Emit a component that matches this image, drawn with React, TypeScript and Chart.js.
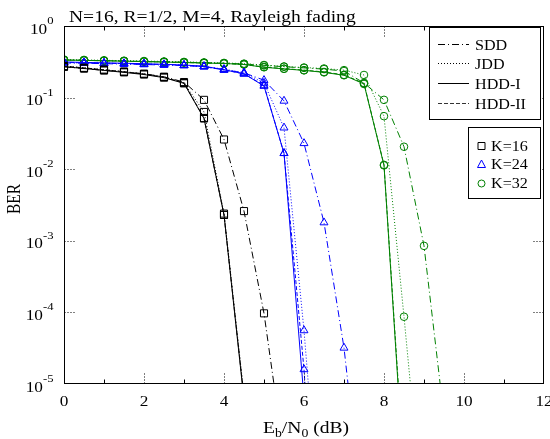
import React, { useEffect, useRef } from "react";
import { Chart, registerables } from "chart.js";

Chart.register(...registerables);

const SERIF = '"Liberation Serif", "Times New Roman", Times, serif';
const SX = 1.15;

// Eb/N0 grid (dB)
const ebn0 = [0, 0.5, 1, 1.5, 2, 2.5, 3, 3.5, 4, 4.5, 5, 5.5, 6, 6.5, 7, 7.5, 8, 8.5, 9, 9.5];

// K = 16
const k16SDD = [0.27, 0.255, 0.24, 0.228, 0.215, 0.195, 0.165, 0.093, 0.026, 0.0026, 0.000097, 0.000001];
const k16JDD = [0.275, 0.26, 0.245, 0.23, 0.215, 0.195, 0.16, 0.063, 0.0024, 0.000007];
const k16HDD1 = [0.27, 0.255, 0.24, 0.225, 0.21, 0.19, 0.158, 0.051, 0.0023, 0.000006];
const k16HDD2 = [0.275, 0.26, 0.245, 0.23, 0.213, 0.193, 0.16, 0.052, 0.0023, 0.0000065];

// K = 24
const k24SDD = [0.305, 0.302, 0.298, 0.294, 0.29, 0.285, 0.28, 0.27, 0.245, 0.222, 0.175, 0.09, 0.023, 0.0018, 0.000032, 0.0000001];
const k24JDD = [0.31, 0.306, 0.302, 0.298, 0.294, 0.289, 0.283, 0.272, 0.25, 0.222, 0.16, 0.038, 0.000056, 0.00000002];
const k24HDD1 = [0.315, 0.31, 0.306, 0.302, 0.297, 0.292, 0.285, 0.274, 0.245, 0.215, 0.145, 0.0167, 0.0000063];
const k24HDD2 = [0.31, 0.306, 0.302, 0.298, 0.294, 0.289, 0.283, 0.272, 0.243, 0.215, 0.148, 0.0167, 0.000016, 0.000000001];

// K = 32
const k32SDD = [0.335, 0.332, 0.328, 0.324, 0.32, 0.316, 0.312, 0.307, 0.302, 0.295, 0.282, 0.27, 0.26, 0.25, 0.235, 0.16, 0.093, 0.0206, 0.00085, 0.0000035];
const k32JDD = [0.34, 0.336, 0.332, 0.328, 0.324, 0.32, 0.315, 0.31, 0.305, 0.298, 0.285, 0.272, 0.263, 0.255, 0.242, 0.207, 0.055, 0.000087, 0.0000001];
const k32HDD1 = [0.335, 0.331, 0.327, 0.323, 0.318, 0.314, 0.309, 0.304, 0.3, 0.29, 0.265, 0.252, 0.24, 0.225, 0.205, 0.155, 0.0113, 0.0000005];
const k32HDD2 = [0.335, 0.331, 0.327, 0.323, 0.318, 0.314, 0.309, 0.304, 0.3, 0.29, 0.268, 0.254, 0.242, 0.228, 0.208, 0.158, 0.0115, 0.0000006];

const xTicks = [0, 2, 4, 6, 8, 10, 12];
const xMinorTicks = [1, 3, 5, 7, 9, 11];
const xGridTicks = [2, 4, 6, 8, 10];
const yTickExps = [0, -1, -2, -3, -4, -5];
const yGridExps = [-1, -2, -3, -4];

const titleText = "N=16, R=1/2, M=4, Rayleigh fading";
const decoderLabels = ["SDD", "JDD", "HDD-I", "HDD-II"];
const kLabels = ["K=16", "K=24", "K=32"];

const decoderDash = [[7, 3, 1, 3], [1, 2], [], [4, 2]];
const kColors = ["#000000", "#0000ff", "#008000"];
const kPointStyles = ["rect", "triangle", "circle"];
const kPointRadius = [5, 4.6, 3.8];
const kSeries = [
  [k16SDD, k16JDD, k16HDD1, k16HDD2],
  [k24SDD, k24JDD, k24HDD1, k24HDD2],
  [k32SDD, k32JDD, k32HDD1, k32HDD2],
];

type Run = { t: string; size: number; dy: number };

function drawRuns(ctx: CanvasRenderingContext2D, runs: Run[], x: number, y: number, align: "left" | "center" | "right") {
  ctx.save();
  let total = 0;
  const widths = runs.map((r) => {
    ctx.font = `${r.size}px ${SERIF}`;
    const w = ctx.measureText(r.t).width * SX;
    total += w;
    return w;
  });
  let cx = align === "left" ? x : align === "center" ? x - total / 2 : x - total;
  ctx.fillStyle = "#000";
  ctx.textAlign = "left";
  ctx.textBaseline = "alphabetic";
  runs.forEach((r, i) => {
    ctx.save();
    ctx.font = `${r.size}px ${SERIF}`;
    ctx.translate(cx, y + r.dy);
    ctx.scale(SX, 1);
    ctx.fillText(r.t, 0, 0);
    ctx.restore();
    cx += widths[i];
  });
  ctx.restore();
}

const decorPlugin = {
  id: "matlabDecor",
  afterDraw(chart: any) {
    const ctx: CanvasRenderingContext2D = chart.ctx;
    const a = chart.chartArea;
    const xs = chart.scales.x;
    const ys = chart.scales.y;
    const L = Math.round(a.left) + 0.5;
    const R = Math.round(a.right) - 0.5;
    const T = Math.round(a.top) + 0.5;
    const B = Math.round(a.bottom) - 0.5;

    ctx.save();
    ctx.strokeStyle = "#000";
    ctx.lineWidth = 1;
    ctx.setLineDash([]);
    ctx.strokeRect(L, T, R - L, B - T);

    // minor solid ticks
    xMinorTicks.forEach((v) => {
      const px = Math.round(xs.getPixelForValue(v)) + 0.5;
      ctx.beginPath();
      ctx.moveTo(px, B);
      ctx.lineTo(px, B - 4);
      ctx.moveTo(px, T);
      ctx.lineTo(px, T + 4);
      ctx.stroke();
    });
    // dotted grid stubs
    ctx.setLineDash([1, 2]);
    xGridTicks.forEach((v) => {
      const px = Math.round(xs.getPixelForValue(v)) + 0.5;
      ctx.beginPath();
      ctx.moveTo(px, B);
      ctx.lineTo(px, B - 11);
      ctx.moveTo(px, T);
      ctx.lineTo(px, T + 11);
      ctx.stroke();
    });
    yGridExps.forEach((e) => {
      const py = Math.round(ys.getPixelForValue(Math.pow(10, e))) + 0.5;
      ctx.beginPath();
      ctx.moveTo(L, py);
      ctx.lineTo(L + 12, py);
      ctx.moveTo(R, py);
      ctx.lineTo(R - 12, py);
      ctx.stroke();
    });
    ctx.setLineDash([]);

    // x tick labels
    xTicks.forEach((v) => {
      drawRuns(ctx, [{ t: String(v), size: 15, dy: 0 }], xs.getPixelForValue(v), a.bottom + 21.5, "center");
    });
    // y tick labels
    yTickExps.forEach((e) => {
      const py = ys.getPixelForValue(Math.pow(10, e));
      drawRuns(
        ctx,
        [
          { t: "10", size: 15, dy: 0 },
          { t: e === 0 ? "0" : String(e), size: 11, dy: -9.5 },
        ],
        a.left - 10.5,
        py + 7.5,
        "right"
      );
    });

    // title
    drawRuns(ctx, [{ t: titleText, size: 17, dy: 0 }], 69, 21.5, "left");

    // x label
    drawRuns(
      ctx,
      [
        { t: "E", size: 17, dy: 0 },
        { t: "b", size: 12, dy: 3.5 },
        { t: "/N", size: 17, dy: 0 },
        { t: "0", size: 12, dy: 3.5 },
        { t: " (dB)", size: 17, dy: 0 },
      ],
      (a.left + a.right) / 2 + 2,
      433,
      "center"
    );

    // y label
    ctx.save();
    ctx.fillStyle = "#000";
    ctx.font = `15.5px ${SERIF}`;
    ctx.translate(20, 199);
    ctx.scale(SX, 1);
    ctx.rotate(-Math.PI / 2);
    ctx.textAlign = "center";
    ctx.textBaseline = "alphabetic";
    ctx.fillText("BER", 0, 0);
    ctx.restore();

    // legend 1: decoders
    ctx.fillStyle = "#fff";
    ctx.fillRect(429.5, 27.5, 111, 92);
    ctx.strokeStyle = "#000";
    ctx.strokeRect(429.5, 27.5, 111, 92);
    const rowY = [44.5, 63.5, 83.5, 103.5];
    decoderLabels.forEach((lab, i) => {
      ctx.save();
      ctx.strokeStyle = i === 3 ? "#333" : "#000";
      ctx.setLineDash(decoderDash[i]);
      ctx.beginPath();
      ctx.moveTo(438, rowY[i]);
      ctx.lineTo(469, rowY[i]);
      ctx.stroke();
      ctx.restore();
      drawRuns(ctx, [{ t: lab, size: 14, dy: 0 }], 475, rowY[i] + 5, "left");
    });

    // legend 2: K markers
    ctx.fillStyle = "#fff";
    ctx.fillRect(468.5, 127.5, 72, 71);
    ctx.strokeStyle = "#000";
    ctx.strokeRect(468.5, 127.5, 72, 71);
    const mY = [146, 164.5, 183.5];
    const mX = 481.5;
    kLabels.forEach((lab, i) => {
      ctx.save();
      ctx.strokeStyle = kColors[i];
      ctx.lineWidth = 1;
      ctx.beginPath();
      const y = mY[i];
      if (i === 0) {
        ctx.rect(mX - 3.5, y - 3.5, 7, 7);
      } else if (i === 1) {
        ctx.moveTo(mX, y - 4.5);
        ctx.lineTo(mX + 4, y + 3);
        ctx.lineTo(mX - 4, y + 3);
        ctx.closePath();
      } else {
        ctx.arc(mX, y, 3.5, 0, Math.PI * 2);
      }
      ctx.stroke();
      ctx.restore();
      drawRuns(ctx, [{ t: lab, size: 14, dy: 0 }], 491, y + 4.5, "left");
    });

    ctx.restore();
  },
};

export default function App() {
  const canvasRef = useRef<HTMLCanvasElement | null>(null);

  useEffect(() => {
    const canvas = canvasRef.current;
    if (!canvas) return;
    const datasets: any[] = [];
    kSeries.forEach((group, k) => {
      group.forEach((ys, d) => {
        datasets.push({
          label: `${kLabels[k]} ${decoderLabels[d]}`,
          data: ys.map((y, i) => ({ x: ebn0[i], y })),
          borderColor: kColors[k],
          backgroundColor: "rgba(0,0,0,0)",
          borderWidth: 1,
          borderDash: decoderDash[d],
          pointStyle: kPointStyles[k],
          pointRadius: kPointRadius[k],
          pointBorderColor: kColors[k],
          pointBackgroundColor: "rgba(0,0,0,0)",
          pointBorderWidth: 1,
          fill: false,
          tension: 0,
        });
      });
    });

    const chart = new Chart(canvas, {
      type: "line",
      data: { datasets },
      options: {
        animation: false,
        responsive: false,
        maintainAspectRatio: false,
        devicePixelRatio: 1,
        events: [],
        layout: { padding: { left: 0, right: 6, top: 26, bottom: 0 } },
        plugins: {
          legend: { display: false },
          tooltip: { enabled: false },
          title: { display: false },
        },
        scales: {
          x: {
            type: "linear",
            min: 0,
            max: 12,
            ticks: { display: false, stepSize: 2 },
            grid: { display: false, drawTicks: false },
            border: { display: false },
            afterFit: (s: any) => {
              s.height = 55;
            },
          },
          y: {
            type: "logarithmic",
            min: 1e-5,
            max: 1,
            ticks: { display: false },
            grid: { display: false, drawTicks: false },
            border: { display: false },
            afterFit: (s: any) => {
              s.width = 64;
            },
          },
        },
      } as any,
      plugins: [decorPlugin],
    });
    return () => chart.destroy();
  }, []);

  return (
    <div style={{ position: "absolute", left: 0, top: 0, width: 550, height: 439, background: "#fff" }}>
      <canvas ref={canvasRef} width={550} height={439} style={{ display: "block", width: 550, height: 439 }} />
    </div>
  );
}
